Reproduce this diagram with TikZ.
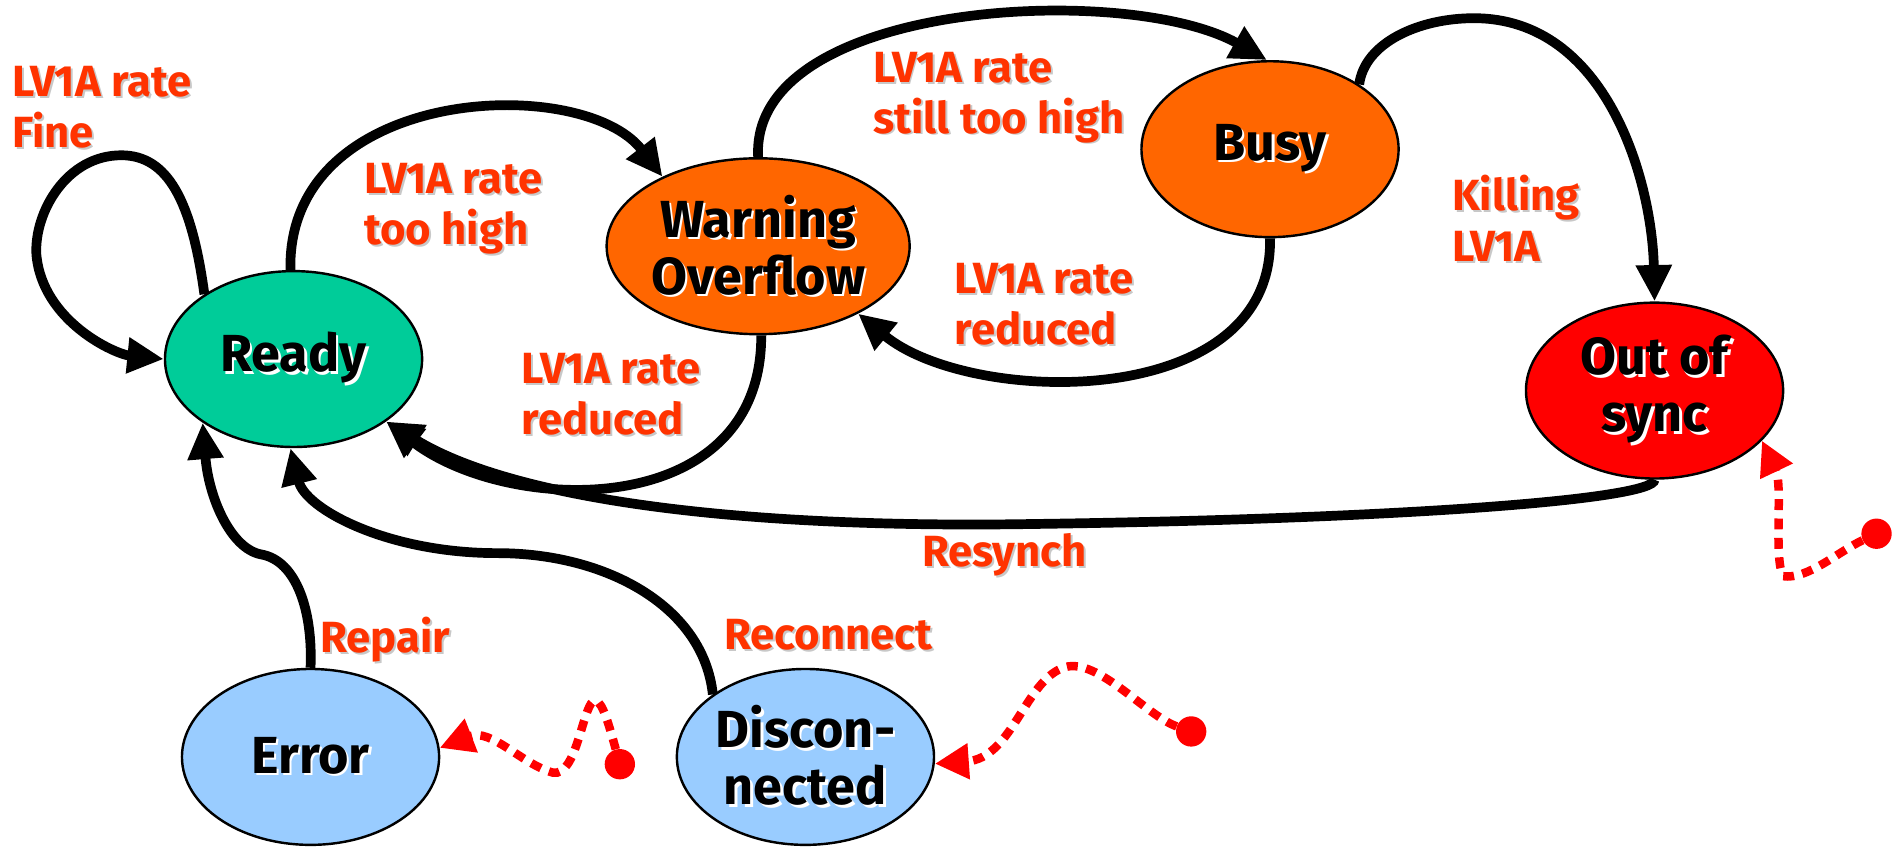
\documentclass[tikz,border=0pt]{standalone}
\usepackage{fontspec}
\setmainfont{Fira Sans}
\usetikzlibrary{shapes.geometric,arrows.meta}
\definecolor{cready}{HTML}{00CC99}
\definecolor{corange}{HTML}{FF6600}
\definecolor{cred}{HTML}{FF0000}
\definecolor{cblue}{HTML}{99CCFF}
\definecolor{clabel}{HTML}{FF3300}
\definecolor{cshade}{HTML}{C8C8C8}
\newcommand\wsh[1]{\leavevmode\rlap{\kern2pt\raisebox{-2pt}{\color{white}#1}}#1}
\newcommand\gsh[1]{\leavevmode\rlap{\kern1.6pt\raisebox{-1.6pt}{\color{cshade}#1}}#1}
\begin{document}
\begin{tikzpicture}[x=1pt,y=-1pt,
  state/.style={ellipse, draw=black, line width=2pt, minimum width=212pt, minimum height=145pt, inner sep=0pt, align=center, font=\fontsize{43}{47}\selectfont\bfseries},
  lbl/.style={anchor=west, inner sep=0pt, align=left, text=clabel, font=\fontsize{36}{42}\selectfont\bfseries},
  arr/.style={line width=8pt, -{Triangle[length=30pt,width=28pt]}},
  ev/.style={line width=7pt, draw=cred, dash pattern=on 9pt off 7pt, -{Triangle[length=28pt,width=28pt]}},
  evdot/.style={circle, fill=cred, inner sep=0pt, minimum size=25pt},
]
\useasboundingbox (0,0) rectangle (1568,698);

% states
\node[state, fill=cready] (ready) at (242,296) {\wsh{Ready}};
\node[state, fill=corange] (warn) at (625,203) {\wsh{Warning}\\\wsh{Overflow}};
\node[state, fill=corange] (busy) at (1047,123) {\wsh{Busy}};
\node[state, fill=cred] (oos) at (1364,322) {\wsh{Out of}\\\wsh{sync}};
\node[state, fill=cblue] (err) at (256,624) {\wsh{Error}};
\node[state, fill=cblue] (disc) at (664,624) {\wsh{Discon-}\\\wsh{nected}};

% labels
\node[lbl] (lfine) at (10,89) {\gsh{LV1A rate}\\\gsh{Fine}};
\node[lbl] (lhigh) at (300,173) {\gsh{LV1A rate}\\\gsh{too high}};
\node[lbl] (lstill) at (720,81) {\gsh{LV1A rate}\\\gsh{still too high}};
\node[lbl] (lkill) at (1197,181) {\gsh{Killing}\\\gsh{LV1A}};
\node[lbl] (lredbw) at (787,252) {\gsh{LV1A rate}\\\gsh{reduced}};
\node[lbl] (lredwr) at (430,326) {\gsh{LV1A rate}\\\gsh{reduced}};
\node[lbl] (lresync) at (760,458) {\gsh{Resynch}};
\node[lbl] (lrepair) at (264,528) {\gsh{Repair}};
\node[lbl] (lrecon) at (597,524) {\gsh{Reconnect}};

% transitions
\draw[arr] (ready.144) .. controls (158,165) and (138,128) .. (100,128)
  .. controls (55,128) and (28,175) .. (30,210)
  .. controls (35,265) and (95,292) .. (ready.west);
\draw[arr] (ready.92) .. controls (236,70) and (480,60) .. (warn.144);
\draw[arr] (warn.north) .. controls (618,0) and (930,-15) .. (busy.92);
\draw[arr] (busy.south) .. controls (1050,340) and (800,335) .. (warn.-34);
\draw[arr] (warn.-88) .. controls (628,430) and (420,425) .. (ready.-34);
\draw[arr] (oos.south) .. controls (1364,412) and (1150,428) .. (850,432)
  .. controls (600,436) and (420,410) .. (ready.-34);
\draw[arr] (busy.36) .. controls (1125,35) and (1170,15) .. (1215,15)
  .. controls (1325,15) and (1362,150) .. (oos.north);
\draw[arr] (err.north) .. controls (258,505) and (245,462) .. (215,457)
  .. controls (190,452) and (172,410) .. (ready.215);
\draw[arr] (disc.146) .. controls (580,500) and (500,456) .. (410,456)
  .. controls (320,456) and (252,420) .. (ready.-92);

% external events
\node[evdot] (d1) at (511,630) {};
\node[evdot] (d2) at (982,603) {};
\node[evdot] (d3) at (1547,440) {};
\draw[ev] (d1) .. controls (500,590) and (495,575) .. (489,578)
  .. controls (480,585) and (475,640) .. (456,637)
  .. controls (430,630) and (405,600) .. (err.4);
\draw[ev] (d2) .. controls (945,590) and (905,542) .. (878,550)
  .. controls (845,560) and (835,625) .. (disc.-3);
\draw[ev] (d3) .. controls (1515,455) and (1490,478) .. (1470,475)
  .. controls (1462,460) and (1470,400) .. (oos.-25);
\end{tikzpicture}
\end{document}
